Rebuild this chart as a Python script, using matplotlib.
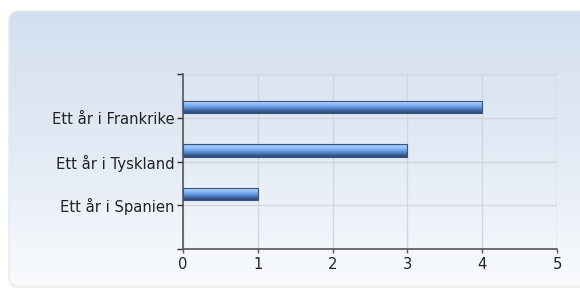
import numpy as np
import matplotlib.pyplot as plt
from matplotlib.patches import FancyBboxPatch, Rectangle
from matplotlib.colors import LinearSegmentedColormap

# data
categories = ['Ett år i Spanien', 'Ett år i Tyskland', 'Ett år i Frankrike']
values = [1, 3, 4]
xticks = [0, 1, 2, 3, 4, 5]

fig = plt.figure(figsize=(5.8, 2.91), dpi=100)

# background panel with vertical gradient
bg = fig.add_axes([0, 0, 1, 1])
bg.set_xlim(0, 580)
bg.set_ylim(291, 0)
bg.axis('off')
panel = FancyBboxPatch((9, 11), 600, 276, boxstyle='round,pad=0,rounding_size=10',
                       facecolor='none', edgecolor='#e6e9ee', lw=1)
bg.add_patch(panel)
bg_cmap = LinearSegmentedColormap.from_list('bg', ['#d3dff0', '#e3eaf5', '#f9fbfd'])
grad = np.linspace(0, 1, 256).reshape(-1, 1)
im = bg.imshow(grad, cmap=bg_cmap, extent=[9, 609, 287, 11], aspect='auto')
im.set_clip_path(panel)

# chart
ax = fig.add_axes([183/580, 1-249/291, 374/580, 175/291])
ax.patch.set_alpha(0)

bar_cmap = LinearSegmentedColormap.from_list(
    'bar', ['#2a456f', '#3f5f94', '#5283cc', '#6f9fe8', '#8fbcf6', '#a8cdfa', '#7aa6e6'])
pos = np.arange(1, len(categories)+1)
for p, v in zip(pos, values):
    y0 = p + 0.11
    h = 0.28
    rect = Rectangle((0, y0), v, h, facecolor='none', edgecolor='#3a5680', lw=0.8, zorder=4)
    ax.add_patch(rect)
    bim = ax.imshow(np.linspace(0, 1, 64).reshape(-1, 1), cmap=bar_cmap,
                    extent=[0, v, y0, y0+h], aspect='auto', zorder=3, origin='lower')
    bim.set_clip_path(rect)

ax.set_xlim(0, 5)
ax.set_ylim(0, 4)
ax.set_xticks(xticks)
ax.set_yticks(list(pos) + [0, 4])
ax.set_yticklabels(categories + ['', ''])
ax.grid(True, color='#d2d6dd', lw=1)
ax.set_axisbelow(True)
for s in ['top', 'right']:
    ax.spines[s].set_visible(False)
for s in ['left', 'bottom']:
    ax.spines[s].set_color('#555555')
    ax.spines[s].set_linewidth(1.2)
ax.tick_params(axis='y', length=4, width=1, color='#333333', labelsize=10.6,
               labelcolor='#222222', pad=2)
ax.tick_params(axis='x', length=3, width=1, color='#555555', labelsize=10.6,
               labelcolor='#222222', pad=3)
# top and right borders of the plot area as grid-coloured lines
ax.axhline(4, color='#d2d6dd', lw=1)
ax.axvline(5, color='#d2d6dd', lw=1)

plt.savefig('out.png', dpi=100)
